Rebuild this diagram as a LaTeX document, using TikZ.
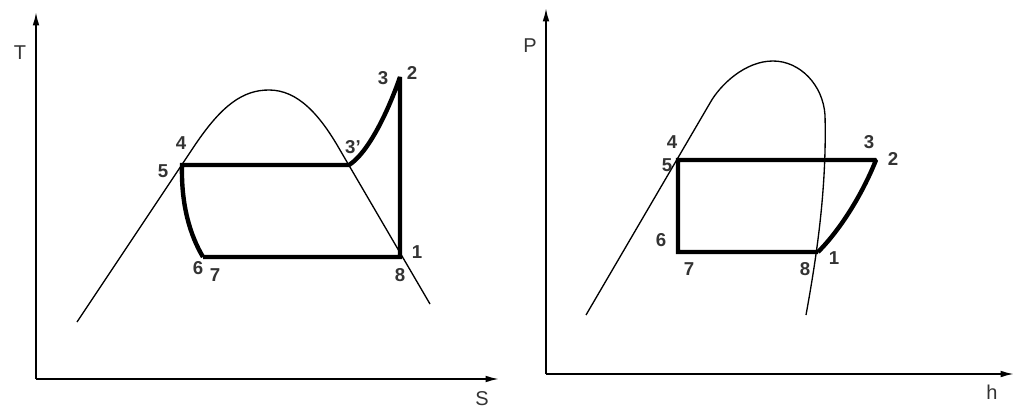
\documentclass[tikz,border=0pt]{standalone}
\usepackage{fontspec}
\setmainfont{Liberation Sans}
\usetikzlibrary{arrows.meta}
\definecolor{labgray}{HTML}{333333}
\begin{document}
\begin{tikzpicture}[x=0.75pt,y=-0.75pt,
  axis/.style={line width=1.3pt,-{Latex[length=10pt,width=5pt]}},
  dome/.style={line width=1.0pt},
  cyc/.style={line width=3.3pt,line join=miter,miter limit=1.5,line cap=butt},
  num/.style={inner sep=0pt,text=labgray,font=\fontsize{14}{16}\selectfont\bfseries},
  axlab/.style={inner sep=0pt,text=labgray,font=\fontsize{15}{17}\selectfont}]
\useasboundingbox (0,0) rectangle (1026,414);
% ---------- T-s diagram ----------
\coordinate (O1) at (36,379);
\coordinate (Ty) at (36,12);
\coordinate (Sx) at (499,379);
\draw[axis] (O1) -- (Ty);
\draw[axis] (O1) -- (Sx);
\node[axlab] (T) at (20,53) {T};
\node[axlab] (S) at (482,399) {S};
\draw[dome] (77,322) -- (195,145) .. controls (222,105) and (243,90) .. (269,90)
  .. controls (298,90) and (320,115) .. (340,150) -- (430,304);
\coordinate (a5) at (182,165);
\coordinate (a3p) at (349,165);
\coordinate (a2) at (400,77);
\coordinate (a1) at (400,257);
\coordinate (a7) at (203,257);
\draw[cyc] (a7) -- (a1) -- (a2) .. controls (388,112) and (368,153) .. (a3p) -- (a5)
  .. controls (181,205) and (190,235) .. (a7);
\node[num] (l4) at (181,143) {4};
\node[num] (l5) at (163,171) {5};
\node[num] (l3p) at (353,147) {3’};
\node[num] (l3) at (383,78) {3};
\node[num] (l2) at (412,73) {2};
\node[num] (l1) at (417,252) {1};
\node[num] (l8) at (400,275) {8};
\node[num] (l6) at (198,268) {6};
\node[num] (l7) at (215,275) {7};
% ---------- P-h diagram ----------
\coordinate (O2) at (546,374);
\coordinate (Py) at (546,8);
\coordinate (Hx) at (1014,374);
\draw[axis] (O2) -- (Py);
\draw[axis] (O2) -- (Hx);
\node[axlab] (P) at (530,46) {P};
\node[axlab] (H) at (992,392) {h};
\draw[dome] (586,315) -- (710,103) .. controls (720,85) and (745,61) .. (773,61)
  .. controls (800,61) and (823,85) .. (825,115)
  .. controls (827,190) and (816,260) .. (806,315);
\coordinate (b5) at (678,160);
\coordinate (b2) at (876,160);
\coordinate (b1) at (818,252);
\coordinate (b7) at (678,252);
\draw[cyc] (b1) -- (b7) -- (b5) -- (b2) .. controls (862,195) and (840,230) .. (b1);
\node[num] (m4) at (672,142) {4};
\node[num] (m5) at (667,165) {5};
\node[num] (m3) at (869,142) {3};
\node[num] (m2) at (893,159) {2};
\node[num] (m6) at (661,240) {6};
\node[num] (m7) at (689,269) {7};
\node[num] (m8) at (805,269) {8};
\node[num] (m1) at (834,258) {1};
\end{tikzpicture}
\end{document}
